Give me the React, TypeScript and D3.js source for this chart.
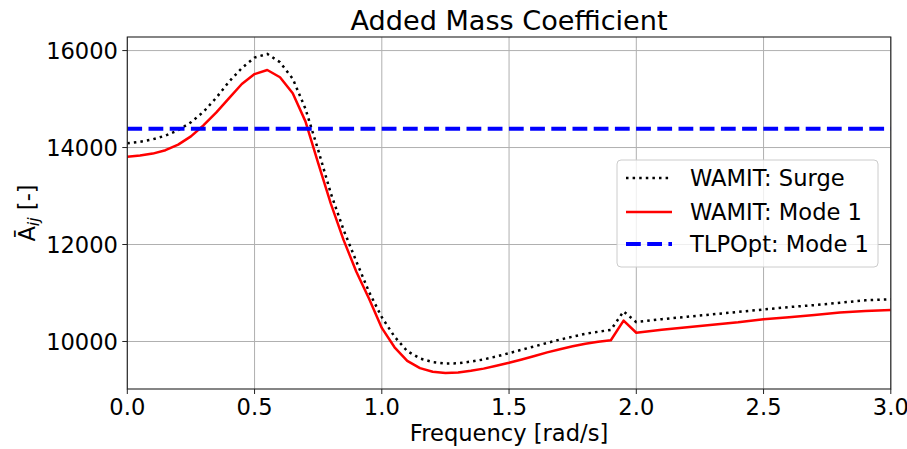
import React, { useEffect } from "react";
import * as d3 from "d3";

const freq = [
  0.0, 0.05, 0.1, 0.15, 0.2, 0.25, 0.3, 0.35, 0.4, 0.45, 0.5, 0.55, 0.6, 0.65, 0.7, 0.75, 0.8, 0.85, 0.9, 0.95,
  1.0, 1.05, 1.1, 1.15, 1.2, 1.25, 1.3, 1.35, 1.4, 1.45, 1.5, 1.55, 1.6, 1.65, 1.7, 1.75, 1.8, 1.85, 1.9, 1.95,
  2.0, 2.1, 2.2, 2.3, 2.4, 2.5, 2.6, 2.7, 2.8, 2.9, 3.0,
];

const surge = [
  14090, 14120, 14170, 14245, 14360, 14520, 14740, 15030, 15360, 15640, 15855, 15930, 15760, 15420, 14800, 13950, 13050, 12300, 11650, 11020,
  10500, 10100, 9800, 9650, 9575, 9545, 9550, 9585, 9630, 9690, 9760, 9830, 9900, 9970, 10040, 10100, 10160, 10200, 10240, 10620,
  10400, 10460, 10510, 10560, 10610, 10660, 10710, 10750, 10800, 10850, 10870,
];

const mode1 = [
  13810, 13835, 13875, 13945, 14060, 14230, 14460, 14725, 15020, 15310, 15515, 15600, 15450, 15120, 14540, 13680, 12840, 12090, 11440, 10880,
  10280, 9880, 9600, 9450, 9375, 9350, 9360, 9395, 9440, 9500, 9560, 9630, 9700, 9775, 9840, 9900, 9955, 9995, 10025, 10430,
  10180, 10240, 10295, 10345, 10395, 10460, 10500, 10545, 10600, 10630, 10650,
];

const tlpoptValue = 14390;

const xTicks = [0.0, 0.5, 1.0, 1.5, 2.0, 2.5, 3.0];
const yTicks = [10000, 12000, 14000, 16000];
const legendLabels = ["WAMIT: Surge", "WAMIT: Mode 1", "TLPOpt: Mode 1"];

const W = 907;
const H = 449;
const left = 127.3;
const right = 890.8;
const top = 37;
const bottom = 389;

export default function App() {
  useEffect(() => {
    document.body.style.margin = "0";
  }, []);

  const x = d3.scaleLinear().domain([0, 3]).range([left, right]);
  const y = d3.scaleLinear().domain([9020, 16280]).range([bottom, top]);

  const line = d3
    .line<number>()
    .x((_, i) => x(freq[i]))
    .y((d) => y(d));

  const font = "DejaVu Sans, sans-serif";
  const legendRows = [178, 212, 244];
  const fs = 22.6;

  return (
    <svg width={W} height={H} style={{ position: "absolute", left: 0, top: 0, background: "#fff" }} fontFamily={font}>
      <defs>
        <clipPath id="plotclip">
          <rect x={left} y={top} width={right - left} height={bottom - top} />
        </clipPath>
      </defs>
      <rect x={0} y={0} width={W} height={H} fill="#fff" />
      {xTicks.map((t) => (
        <line key={"gx" + t} x1={x(t)} x2={x(t)} y1={top} y2={bottom} stroke="#b0b0b0" strokeWidth={1} />
      ))}
      {yTicks.map((t) => (
        <line key={"gy" + t} x1={left} x2={right} y1={y(t)} y2={y(t)} stroke="#b0b0b0" strokeWidth={1} />
      ))}
      <g clipPath="url(#plotclip)">
        <path d={line(surge) || ""} fill="none" stroke="#000" strokeWidth={2.5} strokeDasharray="2.5,4.1" />
        <path d={line(mode1) || ""} fill="none" stroke="#ff0000" strokeWidth={2.5} strokeLinejoin="round" />
        <line x1={x(0)} x2={x(3)} y1={y(tlpoptValue)} y2={y(tlpoptValue)} stroke="#0000ff" strokeWidth={4} strokeDasharray="14.8,6.4" />
      </g>
      <rect x={left} y={top} width={right - left} height={bottom - top} fill="none" stroke="#222" strokeWidth={1.1} />
      {xTicks.map((t) => (
        <g key={"tx" + t}>
          <line x1={x(t)} x2={x(t)} y1={bottom} y2={bottom + 5} stroke="#222" strokeWidth={1} />
          <text x={x(t)} y={414.5} textAnchor="middle" fontSize={fs} fill="#000">
            {t.toFixed(1)}
          </text>
        </g>
      ))}
      {yTicks.map((t) => (
        <g key={"ty" + t}>
          <line x1={left - 5} x2={left} y1={y(t)} y2={y(t)} stroke="#222" strokeWidth={1} />
          <text x={118} y={y(t) + 8.5} textAnchor="end" fontSize={fs} fill="#000">
            {t}
          </text>
        </g>
      ))}
      <text x={(left + right) / 2} y={30} textAnchor="middle" fontSize={27.1} fill="#000">
        Added Mass Coefficient
      </text>
      <text x={(left + right) / 2} y={441} textAnchor="middle" fontSize={fs} fill="#000">
        Frequency [rad/s]
      </text>
      <text transform={`translate(35,${(top + bottom) / 2}) rotate(-90)`} textAnchor="middle" fontSize={fs} fill="#000">
        Ā<tspan fontStyle="italic" fontSize={15.8} dy={4}>ij</tspan>
        <tspan dy={-4}> [-]</tspan>
      </text>
      <rect x={617} y={160} width={261} height={107} rx={4} ry={4} fill="#fff" fillOpacity={0.8} stroke="#cccccc" strokeWidth={1} />
      <line x1={626} x2={672} y1={legendRows[0]} y2={legendRows[0]} stroke="#000" strokeWidth={2.5} strokeDasharray="2.5,4.1" />
      <line x1={626} x2={672} y1={legendRows[1]} y2={legendRows[1]} stroke="#ff0000" strokeWidth={2.5} />
      <line x1={626} x2={672} y1={legendRows[2]} y2={legendRows[2]} stroke="#0000ff" strokeWidth={4} strokeDasharray="14.8,6.4" />
      {legendLabels.map((l, i) => (
        <text key={l} x={690} y={legendRows[i] + 8} fontSize={fs} fill="#000">
          {l}
        </text>
      ))}
    </svg>
  );
}
